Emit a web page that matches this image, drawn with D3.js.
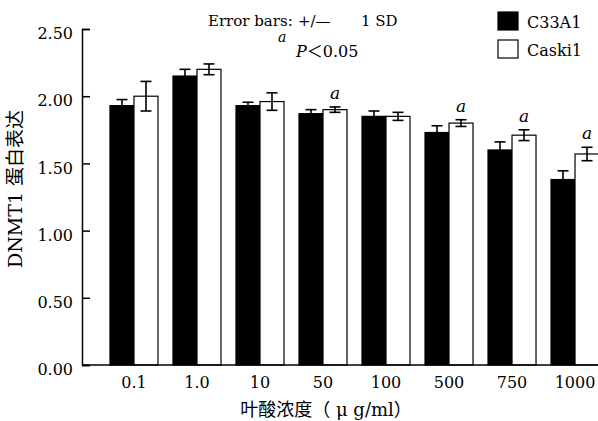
<!DOCTYPE html>
<html>
<head>
<meta charset="utf-8">
<script src="https://cdn.jsdelivr.net/npm/d3@7"></script>
</head>
<body style="margin:0;padding:0;background:#fff">
<svg id="chart" width="598" height="421" style="display:block"></svg>
<script>
const categories = ["0.1", "1.0", "10", "50", "100", "500", "750", "1000"];
const seriesNames = ["C33A1", "Caski1"];
const c33a1Mean = [1.93, 2.15, 1.93, 1.87, 1.85, 1.73, 1.60, 1.38];
const c33a1SD   = [0.045, 0.05, 0.025, 0.03, 0.04, 0.05, 0.06, 0.065];
const caski1Mean = [2.00, 2.20, 1.96, 1.90, 1.85, 1.80, 1.71, 1.57];
const caski1SD   = [0.11, 0.04, 0.065, 0.02, 0.03, 0.025, 0.04, 0.05];
const significant = [false, false, false, true, false, true, true, true];
const yTicks = [0, 0.5, 1.0, 1.5, 2.0, 2.5];

const SERIF = "DejaVu Serif, Noto Sans CJK SC";
const svg = d3.select("#chart");
const x0 = 82, yBase = 365, yTop = 29;

const x = d3.scaleBand().domain(categories).range([x0, 627]).paddingInner(0.238).paddingOuter(0.444);
const xi = d3.scaleBand().domain(seriesNames).range([0, x.bandwidth()]).padding(0);
const y = d3.scaleLinear().domain([0, 2.5]).range([yBase, yTop]);
const fills = { "C33A1": "#000", "Caski1": "#fff" };

const rows = [];
categories.forEach((c, i) => {
  rows.push({ cat: c, s: "C33A1", v: c33a1Mean[i], sd: c33a1SD[i], sig: false });
  rows.push({ cat: c, s: "Caski1", v: caski1Mean[i], sd: caski1SD[i], sig: significant[i] });
});

// bars
svg.append("g").selectAll("rect").data(rows).join("rect")
  .attr("x", d => x(d.cat) + xi(d.s))
  .attr("y", d => y(d.v))
  .attr("width", xi.bandwidth())
  .attr("height", d => y(0) - y(d.v))
  .attr("fill", d => fills[d.s])
  .attr("stroke", "#000")
  .attr("stroke-width", 1.2);

// error bars (+/- 1 SD)
const eb = svg.append("g").attr("stroke", "#000").attr("stroke-width", 1.6).attr("fill", "none");
rows.forEach(d => {
  const cx = x(d.cat) + xi(d.s) + xi.bandwidth() / 2;
  const hi = y(d.v + d.sd), lo = y(d.v - d.sd);
  eb.append("line").attr("x1", cx).attr("x2", cx).attr("y1", hi).attr("y2", lo);
  eb.append("line").attr("x1", cx - 5.5).attr("x2", cx + 5.5).attr("y1", hi).attr("y2", hi);
  eb.append("line").attr("x1", cx - 5.5).attr("x2", cx + 5.5).attr("y1", lo).attr("y2", lo);
});

// significance markers
svg.append("g").selectAll("text").data(rows.filter(d => d.sig)).join("text")
  .attr("x", d => x(d.cat) + xi(d.s) + xi.bandwidth() / 2)
  .attr("y", d => y(d.v + d.sd) - 8)
  .attr("text-anchor", "middle")
  .attr("font-style", "italic")
  .attr("font-size", 17)
  .text("a");

// y axis (ticks pointing inward)
const yAxis = d3.axisLeft(y).tickValues(yTicks).tickFormat(d3.format(".2f"))
  .tickSizeInner(-8).tickSizeOuter(-8).tickPadding(9);
const gy = svg.append("g").attr("transform", `translate(${x0},0)`).call(yAxis);
gy.selectAll("path, line").attr("stroke", "#000").attr("stroke-width", 1.5);
gy.selectAll("text").attr("font-size", 16).attr("dy", "0.6em");

// x axis (no ticks)
const xAxis = d3.axisBottom(x).tickSize(0).tickPadding(12);
const gx = svg.append("g").attr("transform", `translate(0,${yBase})`).call(xAxis);
gx.select(".domain").attr("d", `M${x0},0H598`).attr("stroke", "#000").attr("stroke-width", 1.5);
gx.selectAll("text").attr("font-size", 16);

// axis titles
svg.append("text")
  .attr("transform", "translate(22,189) rotate(-90)")
  .attr("text-anchor", "middle")
  .attr("font-size", 19)
  .text("DNMT1 蛋白表达");

svg.append("text")
  .attr("x", 326).attr("y", 416)
  .attr("text-anchor", "middle")
  .attr("font-size", 18)
  .text("叶酸浓度（ μ g/ml）");

// annotation
const note = svg.append("g").attr("font-size", 15);
note.append("text").attr("x", 208).attr("y", 26).text("Error bars:");
note.append("text").attr("x", 298).attr("y", 26).text("+/—");
note.append("text").attr("x", 361).attr("y", 26).text("1 SD");
note.append("text").attr("x", 278).attr("y", 42).attr("font-style", "italic").attr("font-size", 14).text("a");
const p = note.append("text").attr("x", 296).attr("y", 57).attr("font-size", 16);
p.append("tspan").attr("font-style", "italic").text("P");
p.append("tspan").text("＜0.05");

// legend
const legend = svg.append("g");
seriesNames.forEach((s, i) => {
  const gy0 = 12 + i * 28;
  legend.append("rect").attr("x", 498).attr("y", gy0).attr("width", 20).attr("height", 18)
    .attr("fill", fills[s]).attr("stroke", "#000").attr("stroke-width", 1.2);
  legend.append("text").attr("x", 527).attr("y", gy0 + 16).attr("font-size", 16).text(s);
});

svg.selectAll("text").attr("font-family", SERIF).style("font-family", SERIF).style("fill", "#000");
</script>
</body>
</html>
